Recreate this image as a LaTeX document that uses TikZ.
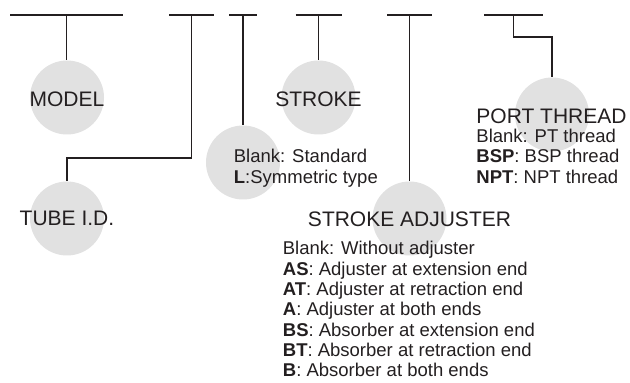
\documentclass[tikz,border=0pt]{standalone}
\usepackage{fontspec}
\setmainfont{Liberation Sans}
\usetikzlibrary{positioning}
\definecolor{inkcolor}{RGB}{35,31,32}
\definecolor{bubblecolor}{RGB}{225,225,225}
\tikzset{
    bubble/.style={circle, fill=bubblecolor, minimum size=37pt, inner sep=0pt},
    heading/.style={inner sep=0pt, anchor=base, text=inkcolor, font=\fontsize{10.5pt}{12pt}\selectfont},
    codes/.style={inner sep=0pt, anchor=base west, align=left, text=inkcolor, font=\fontsize{9.25pt}{10.15pt}\selectfont},
    leader/.style={draw=inkcolor, line width=0.6pt}
}

\begin{document}
\begin{tikzpicture}[x=0.5pt, y=-0.5pt]
\useasboundingbox (0,0) rectangle (630,383);

% grey discs behind the labels
\node[bubble] (model) at (67,97.5) {};
\node[bubble] (tube) at (67,218.5) {};
\node[bubble] (stype) at (243,162.5) {};
\node[bubble] (stroke) at (318.5,97.5) {};
\node[bubble] (adjust) at (409.5,218.5) {};
\node[bubble] (port) at (552,114.5) {};

% code bars
\foreach \name/\xc/\hw in {model/66.5/56.5, tube/191.5/22.5, stype/243/14, stroke/318.5/23, adjust/409.5/22.5, port/513.5/29.5} {
  \draw[leader] (\xc-\hw,15) -- (\xc+\hw,15);
  \coordinate (\name-t) at (\xc,15);
}

% leaders down to the discs
\coordinate (tube-bend) at (191.5,158);
\coordinate (port-bend) at (513.5,37);
\draw[leader] (model-t) -- (model-t |- model.north);
\draw[leader] (tube-t) -- (tube-bend) -| (tube.north);
\draw[leader] (stype-t) -- (stype-t |- stype.north);
\draw[leader] (stroke-t) -- (stroke-t |- stroke.north);
\draw[leader] (adjust-t) -- (adjust-t |- adjust.north);
\draw[leader] (port-t) -- (port-bend) -| (port.north);

% labels
\node[heading] (model-label) at (67,106.7) {MODEL};
\node[heading] (tube-label) at (67,225.7) {TUBE I.D.};
\node[heading] (stroke-label) at (318.5,106.7) {STROKE};
\node[heading] (adjust-label) at (409.5,226.7) {STROKE ADJUSTER};
\node[heading, anchor=base west] (port-label) at (476,123.3) {PORT THREAD};

% code lists, placed by the baseline of their last line
\node[codes] (stype-codes) at (233.5,183.3) {Blank: Standard\\\textbf{L}:Symmetric type};
\node[codes] (adjust-codes) at (282.5,376.7) {Blank: Without adjuster\\
  \textbf{AS}: Adjuster at extension end\\
  \textbf{AT}: Adjuster at retraction end\\
  \textbf{A}: Adjuster at both ends\\
  \textbf{BS}: Absorber at extension end\\
  \textbf{BT}: Absorber at retraction end\\
  \textbf{B}: Absorber at both ends};
\node[codes] (port-codes) at (476,183.3) {Blank: PT thread\\\textbf{BSP}: BSP thread\\\textbf{NPT}: NPT thread};
\end{tikzpicture}
\end{document}
